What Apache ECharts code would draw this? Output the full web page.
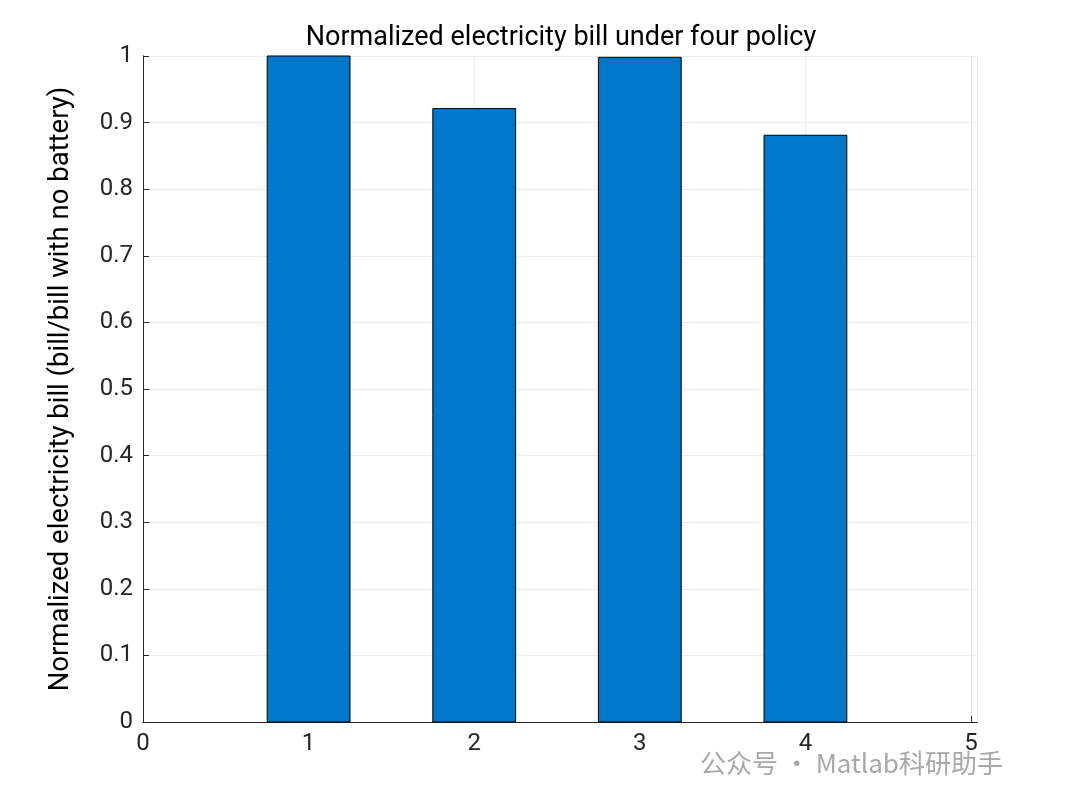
<!DOCTYPE html>
<html><head><meta charset="utf-8">
<script src="https://cdn.jsdelivr.net/npm/echarts@6/dist/echarts.min.js"></script>
<style>body{margin:0}#c{width:1080px;height:807px}</style>
</head><body><div id="c"></div>
<script>
var policies = [1, 2, 3, 4];
var bills = [1.0, 0.921, 0.998, 0.881];
var barWidthUnits = 0.5;

var chart = echarts.init(document.getElementById('c'));
var axisCommon = {
    axisLine: {show: true, onZero: false, lineStyle: {color: '#262626'}},
    axisTick: {show: true, inside: true, length: 6, lineStyle: {color: '#262626'}},
    axisLabel: {color: '#262626', fontSize: 24, fontFamily: 'Roboto', margin: 10},
    splitLine: {show: true, lineStyle: {color: '#ececec'}}
};
chart.setOption({
    animation: false,
    title: {text: 'Normalized electricity bill under four policy', left: 556, top: 20, textAlign: 'center',
        textStyle: {fontSize: 27, fontWeight: 'normal', color: '#000', fontFamily: 'Roboto'}},
    grid: {left: 143, right: 103, top: 56, bottom: 85},
    xAxis: [Object.assign({type: 'value', min: 0, max: 5.036, interval: 1, position: 'bottom'}, axisCommon),
        {type: 'value', min: 0, max: 5.036, position: 'top', axisLine: {show: true, lineStyle: {color: '#262626'}},
         axisTick: {show: false}, axisLabel: {show: false}, splitLine: {show: false}}],
    yAxis: [Object.assign({type: 'value', min: 0, max: 1, interval: 0.1,
        name: 'Normalized electricity bill (bill/bill with no battery)', nameLocation: 'middle', nameGap: 68,
        nameTextStyle: {fontSize: 27.5, color: '#000', fontFamily: 'Roboto'}}, axisCommon),
        {type: 'value', min: 0, max: 1, position: 'right', axisLine: {show: true, lineStyle: {color: '#262626'}},
         axisTick: {show: false}, axisLabel: {show: false}, splitLine: {show: false}}],
    series: [{
        type: 'custom',
        data: policies.map(function (p, i) { return [p, bills[i]]; }),
        renderItem: function (params, api) {
            var x = api.value(0), y = api.value(1);
            var tl = api.coord([x - barWidthUnits / 2, y]);
            var br = api.coord([x + barWidthUnits / 2, 0]);
            return {type: 'rect', shape: {x: tl[0], y: tl[1], width: br[0] - tl[0], height: br[1] - tl[1]},
                style: {fill: '#0077c8', stroke: '#000', lineWidth: 1}};
        }
    }],
    graphic: [{type: 'text', left: 700, top: 750,
        style: {text: '公众号 · Matlab科研助手', fontSize: 26, fill: '#a8a8a8', fontFamily: 'Noto Sans CJK SC'}}]
});
</script></body></html>
